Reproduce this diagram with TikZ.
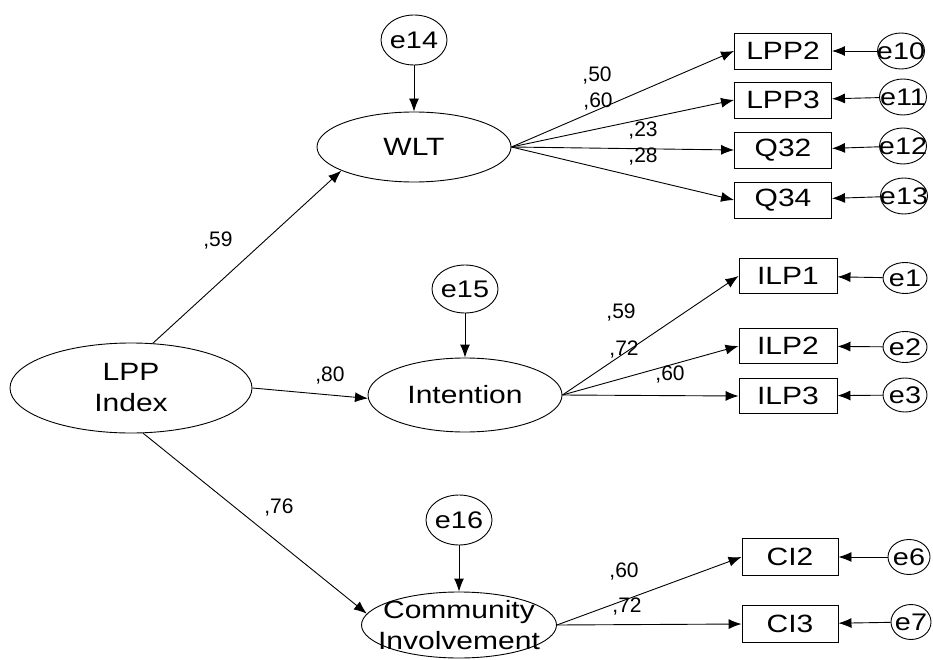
\documentclass[tikz,border=0pt]{standalone}
\usepackage{fontspec}
\setmainfont{Liberation Sans}
\newfontfamily\stretchfont{Liberation Sans}[FakeStretch=1.2]
\usepackage{tikz}
\usetikzlibrary{arrows.meta,shapes.geometric,calc}

\begin{document}
\begin{tikzpicture}[x=1pt,y=-1pt,line width=0.9pt,>={Latex[length=13pt,width=10pt]},
   ltext/.style={inner sep=0pt,align=center,font=\stretchfont\fontsize{25}{31}\selectfont},
   etext/.style={inner sep=0pt,font=\stretchfont\fontsize{24}{28}\selectfont},
   latent/.style={draw,ellipse,inner sep=0pt,label={[ltext]center:#1}},
   errterm/.style={draw,ellipse,inner sep=0pt,label={[etext]center:#1}},
   observed/.style={draw,rectangle,inner sep=0pt,font=\stretchfont\fontsize{25}{30}\selectfont},
   weight/.style={anchor=base,inner sep=0pt,font=\fontsize{21}{25}\selectfont}]
   \useasboundingbox (0,0) rectangle (933,660);
   \node[latent={LPP\\Index},minimum width=242pt,minimum height=90pt] (LPP) at (131,388) {};
   \node[latent=WLT,minimum width=194pt,minimum height=70pt] (WLT) at (414,147) {};
   \node[latent=Intention,minimum width=194pt,minimum height=74pt] (INT) at (465,395) {};
   \node[latent={Community\\Involvement},minimum width=195pt,minimum height=66pt] (CI) at (459,625) {};
   \node[errterm=e14,minimum width=66pt,minimum height=50pt] (E14) at (414,40) {};
   \node[errterm=e15,minimum width=66pt,minimum height=48pt] (E15) at (465,289) {};
   \node[errterm=e16,minimum width=66pt,minimum height=50pt] (E16) at (459,520) {};
   \draw[->] (E14) -- (WLT);
   \draw[->] (E15) -- (INT);
   \draw[->] (E16) -- (CI);
   \draw[->] (LPP.64) -- (WLT.198);
   \draw[->] (LPP.east) -- (INT.182);
   \draw[->] (LPP.285) -- (CI.173);
   \foreach \n/\y/\e/\ex/\ey/\eh in {LPP2/51/e10/901/51/36,LPP3/100/e11/903/97/36,Q32/150/e12/903/146/36,Q34/200/e13/904/196/36} {
    \node[observed,minimum width=97pt,minimum height=36pt] (\n) at (783,\y) {\n};
    \node[errterm=\e,minimum width=47pt,minimum height=\eh pt] (\e) at (\ex,\ey) {};
    \draw[->] (\e) -- (\n);
    \draw[->] (WLT.east) -- (\n.west);
   }
   \foreach \n/\y/\e/\ey/\eh in {ILP1/276/e1/278/31,ILP2/346/e2/347/31,ILP3/396/e3/395/34} {
    \node[observed,minimum width=98pt,minimum height=35pt] (\n) at (788,\y) {\n};
    \node[errterm=\e,minimum width=44pt,minimum height=\eh pt] (\e) at (905,\ey) {};
    \draw[->] (\e) -- (\n);
    \draw[->] (INT.east) -- (\n.west);
   }
   \foreach \n/\y/\e/\ex/\ey/\ew in {CI2/557/e6/909/557/42,CI3/624/e7/911/622/40} {
    \node[observed,minimum width=96pt,minimum height=37pt] (\n) at (790,\y) {\n};
    \node[errterm=\e,minimum width=\ew pt,minimum height=35pt] (\e) at (\ex,\ey) {};
    \draw[->] (\e) -- (\n);
    \draw[->] (CI.east) -- (\n.west);
   }
   \foreach \w/\x/\y/\v in {w1/218/247/59,w2/330/381/80,w3/279/513/76,w4/597/82/50,w5/598/108/60,w6/643/137/23,w7/643/163/28,w8/621/318/59,w9/624/355/72,w10/670/380/60,w11/624/577/60,w12/627/612/72}
    \node[weight] (\w) at (\x,\y) {,\v};
\end{tikzpicture}
\end{document}
